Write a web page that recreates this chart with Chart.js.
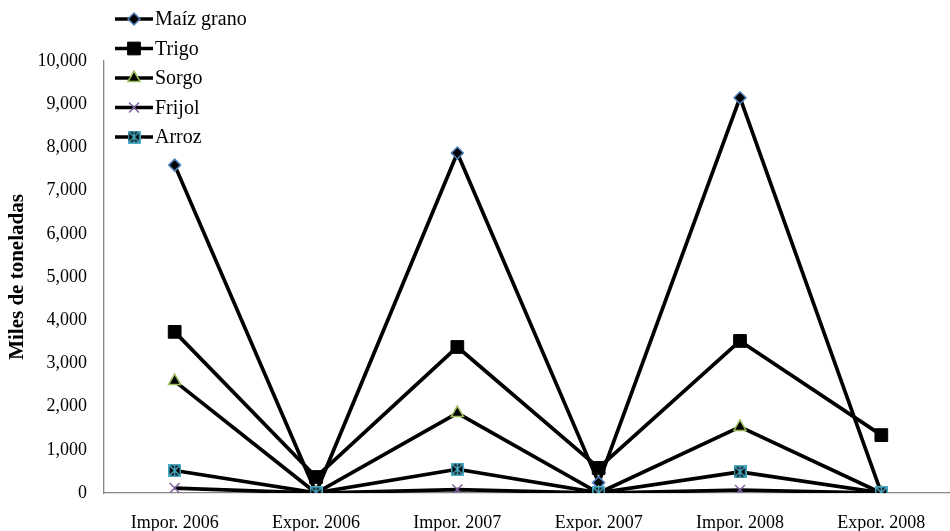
<!DOCTYPE html>
<html>
<head>
<meta charset="utf-8">
<script src="https://cdn.jsdelivr.net/npm/chart.js@4.4.1/dist/chart.umd.min.js"></script>
<style>
  html, body { margin: 0; padding: 0; overflow: hidden; background: #fff; }
  #wrap { position: relative; width: 962px; height: 531px; }
</style>
</head>
<body>
<div id="wrap"><canvas id="c" width="962" height="531"></canvas></div>
<script>
// Categorías y series (miles de toneladas)
const categories = ['Impor. 2006', 'Expor. 2006', 'Impor. 2007', 'Expor. 2007', 'Impor. 2008', 'Expor. 2008'];
const maizGrano = [7590, 10, 7870, 240, 9150, 0];
const trigo     = [3730, 370, 3380, 580, 3520, 1340];
const sorgo     = [2590, 0, 1850, 0, 1530, 0];
const frijol    = [115, 0, 80, 0, 70, 0];
const arroz     = [520, 5, 550, 5, 490, 5];
const yMin = 0, yMax = 10000, yStep = 1000;

const FONT = '"Liberation Serif", "Times New Roman", serif';

// Marcador de Arroz: cuadro negro con asterisco cian
function starSquare() {
  const s = 13, c = document.createElement('canvas');
  c.width = s; c.height = s;
  const g = c.getContext('2d');
  g.fillStyle = '#000';
  g.fillRect(0, 0, s, s);
  g.strokeStyle = '#4BACC6';
  g.lineWidth = 1.5;
  g.strokeRect(0.75, 0.75, s - 1.5, s - 1.5);
  g.beginPath();
  g.moveTo(1, 1); g.lineTo(s - 1, s - 1);
  g.moveTo(s - 1, 1); g.lineTo(1, s - 1);
  g.moveTo(s / 2, 0); g.lineTo(s / 2, s);
  g.stroke();
  return c;
}

const lineBase = {
  borderColor: '#000',
  borderWidth: 3.7,
  tension: 0,
  fill: false,
  borderJoinStyle: 'round',
  pointHoverRadius: 0
};

const datasets = [
  Object.assign({}, lineBase, {
    label: 'Maíz grano', data: maizGrano, order: 5,
    pointStyle: 'rectRot', pointRadius: 6,
    pointBackgroundColor: '#000', pointBorderColor: '#4F81BD', pointBorderWidth: 1.5
  }),
  Object.assign({}, lineBase, {
    label: 'Trigo', data: trigo, order: 4,
    pointStyle: 'rect', pointRadius: 9,
    pointBackgroundColor: '#000', pointBorderColor: '#000', pointBorderWidth: 1
  }),
  Object.assign({}, lineBase, {
    label: 'Sorgo', data: sorgo, order: 3,
    pointStyle: 'triangle', pointRadius: 7,
    pointBackgroundColor: '#000', pointBorderColor: '#9BBB59', pointBorderWidth: 1.5
  }),
  Object.assign({}, lineBase, {
    label: 'Frijol', data: frijol, order: 2,
    pointStyle: 'crossRot', pointRadius: 7,
    pointBackgroundColor: '#8064A2', pointBorderColor: '#8064A2', pointBorderWidth: 1.5
  }),
  Object.assign({}, lineBase, {
    label: 'Arroz', data: arroz, order: 1,
    pointStyle: starSquare(), pointRadius: 7,
    pointBackgroundColor: '#000', pointBorderColor: '#4BACC6', pointBorderWidth: 1
  })
];

// Leyenda vertical en la esquina superior izquierda
const serieLegend = {
  id: 'serieLegend',
  afterDraw(chart) {
    const ctx = chart.ctx;
    chart.data.datasets.forEach((ds, i) => {
      const y = 19 + i * 29.5;
      ctx.save();
      ctx.strokeStyle = '#000';
      ctx.lineWidth = 3.7;
      ctx.beginPath();
      ctx.moveTo(115, y);
      ctx.lineTo(153, y);
      ctx.stroke();
      ctx.fillStyle = ds.pointBackgroundColor;
      ctx.strokeStyle = ds.pointBorderColor;
      ctx.lineWidth = ds.pointBorderWidth;
      Chart.helpers.drawPoint(ctx, {
        pointStyle: ds.pointStyle,
        radius: ds.pointRadius,
        rotation: 0,
        borderWidth: ds.pointBorderWidth
      }, 134, y);
      ctx.fillStyle = '#000';
      ctx.font = '20px ' + FONT;
      ctx.textBaseline = 'middle';
      ctx.textAlign = 'left';
      ctx.fillText(ds.label, 155, y + 1);
      ctx.restore();
    });
  }
};

new Chart(document.getElementById('c'), {
  type: 'line',
  data: { labels: categories, datasets: datasets },
  options: {
    responsive: false,
    animation: false,
    devicePixelRatio: 1,
    layout: { padding: { top: 61, left: 0, right: 0, bottom: 0 } },
    plugins: {
      legend: { display: false },
      tooltip: { enabled: false }
    },
    scales: {
      x: {
        offset: true,
        grid: { display: false, drawTicks: false },
        border: { display: true, color: '#868686', width: 1.3 },
        ticks: {
          color: '#000', padding: 19, maxRotation: 0, autoSkip: false,
          font: { family: FONT, size: 18 }
        },
        afterFit(scale) { scale.height = 38; }
      },
      y: {
        min: yMin, max: yMax,
        grid: { display: false, drawTicks: false },
        border: { display: true, color: '#868686', width: 1.3 },
        ticks: {
          stepSize: yStep, color: '#000', padding: 17,
          font: { family: FONT, size: 18 },
          callback: v => v.toLocaleString('en-US')
        },
        title: {
          display: true, text: 'Miles de toneladas', color: '#000',
          font: { family: FONT, size: 21, weight: 'bold' },
          padding: { top: 5, bottom: 0 }
        },
        afterFit(scale) { scale.width = 104; }
      }
    }
  },
  plugins: [serieLegend]
});
</script>
</body>
</html>
